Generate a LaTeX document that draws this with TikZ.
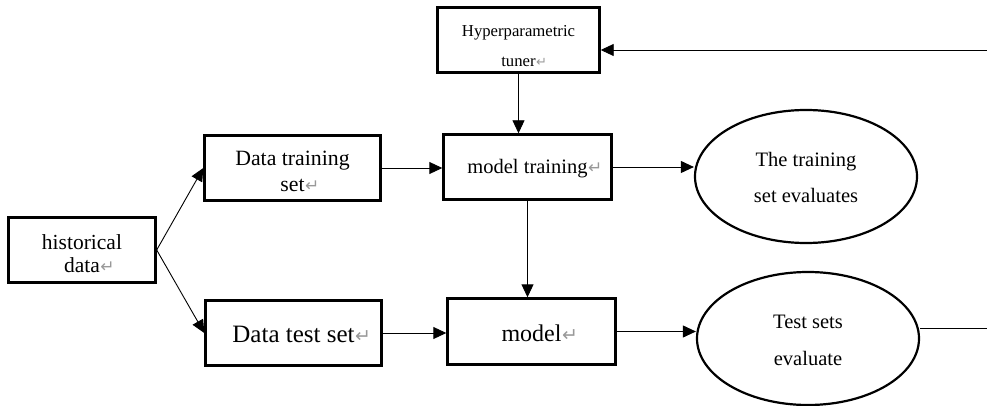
\documentclass[tikz,border=0pt]{standalone}
\usepackage{fontspec}
\setmainfont{Liberation Serif}
\newfontfamily\symfont{DejaVu Sans}
\usetikzlibrary{arrows.meta,shapes.geometric}

% paragraph mark printed after the last word of a label
\newcommand\retmark[1]{\rlap{\kern0.5pt\symfont\fontsize{#1}{#1}\selectfont\color{black!40}↵}}

\tikzset{
  box/.style={draw, line width=2.4pt, rectangle, align=center, inner sep=0pt, text depth=0pt},
  oval/.style={draw, line width=2.2pt, ellipse, align=center, inner sep=0pt, text depth=0pt,
               minimum width=222pt, minimum height=133pt},
  link/.style={line width=0.9pt, -{Triangle[length=13pt,width=12pt]}},
  plain/.style={line width=0.9pt},
}

\begin{document}
\begin{tikzpicture}[x=1pt,y=-1pt]
\useasboundingbox (0,0) rectangle (987,406);

% boxes
\node[box, minimum width=147pt, minimum height=65pt, text height=44pt,
      font=\fontsize{21.5}{23}\selectfont] (hist) at (82,250)
      {historical\\data\retmark{17}};
\node[box, minimum width=176pt, minimum height=65pt, text height=46pt,
      font=\fontsize{21.8}{25}\selectfont] (dtrain) at (292.5,168)
      {Data training\\set\retmark{17}};
\node[box, minimum width=176pt, minimum height=65pt, text height=18pt,
      font=\fontsize{25}{27}\selectfont] (dtest) at (293.5,333)
      {Data test set\retmark{19}};
\node[box, minimum width=162pt, minimum height=65pt, text height=54pt,
      font=\fontsize{16.7}{30}\selectfont] (tuner) at (518.5,40)
      {Hyperparametric\\tuner\retmark{13}};
\node[box, minimum width=168pt, minimum height=65pt, text height=14pt,
      font=\fontsize{20.5}{22}\selectfont] (mtrain) at (527.5,167)
      {model training\retmark{17}};
\node[box, minimum width=168pt, minimum height=66pt, text height=19pt,
      font=\fontsize{24}{26}\selectfont] (model) at (531.5,331.5)
      {model\retmark{19}};

% evaluation ovals
\node[oval, text height=53pt, font=\fontsize{20.5}{36.5}\selectfont] (eltrain) at (806,176.5)
      {The training\\set evaluates};
\node[oval, text height=53pt, font=\fontsize{20.5}{37}\selectfont] (eltest) at (808,338.5)
      {Test sets\\evaluate};

% connectors
\draw[link] (hist.east) -- (dtrain.west);
\draw[link] (hist.east) -- (dtest.west);
\draw[link] (dtrain.east) -- (dtrain.east -| mtrain.west);
\draw[link] (dtest.east) -- (dtest.east -| model.west);
\draw[link] (tuner.south) -- (tuner.south |- mtrain.north);
\draw[link] (mtrain.south) -- (mtrain.south |- model.north);
\draw[link] (mtrain.east) -- (mtrain.east -| eltrain.west);
\draw[link] (model.east) -- (model.east -| eltest.west);

% loose ends at the right margin
\coordinate (fbin) at (987,50);
\coordinate (fbout) at (987,328);
\draw[link] (fbin) -- (fbin -| tuner.east);
\draw[plain] (fbout -| eltest.east) -- (fbout);
\end{tikzpicture}
\end{document}
